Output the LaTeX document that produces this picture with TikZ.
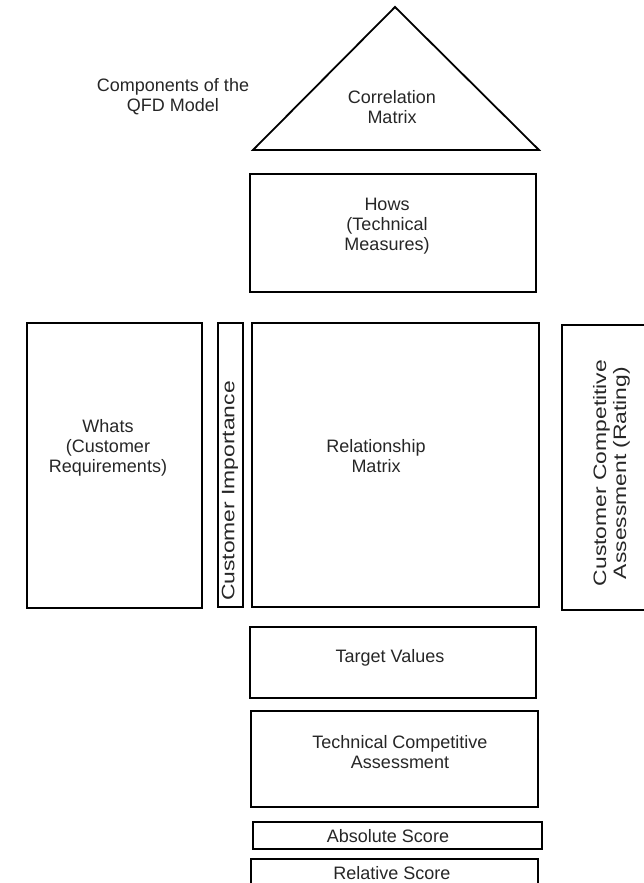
\documentclass[tikz,border=0pt]{standalone}
\usepackage{fontspec}
\setmainfont{Liberation Sans}
\usepackage{graphicx}
\usetikzlibrary{positioning}
\newcommand{\longtxt}[1]{\scalebox{1.27}[1]{#1}}

\begin{document}
\begin{tikzpicture}[x=1pt,y=-1pt,
box/.style={draw,line width=1.8pt,inner sep=0pt},
lbl/.style={align=center,text=black!85,font=\fontsize{18}{20}\selectfont,inner sep=0pt}]
\useasboundingbox (0,0) rectangle (644,883);
\clip (0,0) rectangle (644,883);
% roof
\coordinate (top) at (395,7);
\coordinate (bl) at (253,150);
\coordinate (br) at (539,150);
\draw[line width=1.8pt,line join=miter] (top)--(bl)--(br)--cycle;
\node[lbl](title) at (173,97){Components of the\\QFD Model};
\node[lbl](corr) at (392,107){Correlation\\Matrix};
% boxes
\node[box,minimum width=286pt,minimum height=118pt](hows) at (393,233){};
\node[box,minimum width=175pt,minimum height=285pt](whats) at (114.5,465.5){};
\node[box,minimum width=25pt,minimum height=284pt](imp) at (230.5,465){};
\node[box,minimum width=287pt,minimum height=284pt](rel) at (395.5,465){};
\node[box,minimum width=108pt,minimum height=285pt](cca) at (616,467.5){};
\node[box,minimum width=286pt,minimum height=71pt](target) at (393,662.5){};
\node[box,minimum width=287pt,minimum height=96pt](tca) at (394.5,759){};
\node[box,minimum width=289pt,minimum height=27pt](abs) at (397.5,835.5){};
\node[box,minimum width=287pt,minimum height=41pt](relsc) at (394.5,879.5){};
% texts
\node[lbl](howst) at (387,226){Hows\\(Technical\\Measures)};
\node[lbl](whatst) at (108,448){Whats\\(Customer\\Requirements)};
\node[lbl,rotate=90](impt) at (230,491){\longtxt{Customer Importance}};
\node[lbl](relt) at (376,456){Relationship\\Matrix};
\node[lbl,rotate=90](ccat) at (612,473){\longtxt{\begin{tabular}{@{}c@{}}Customer Competitive\\Assessment (Rating)\end{tabular}}};
\node[lbl](targett) at (390,658){Target Values};
\node[lbl](tcat) at (400,752){Technical Competitive\\Assessment};
\node[lbl](abst) at (388,836){Absolute Score};
\node[lbl](relsct) at (392,873){Relative Score};
\end{tikzpicture}
\end{document}
